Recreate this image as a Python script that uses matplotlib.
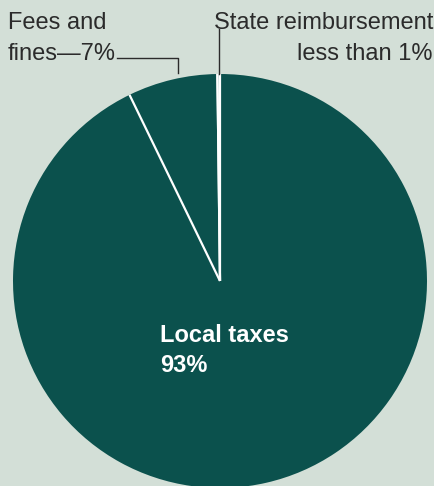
import numpy as np
import matplotlib
matplotlib.use("Agg")
import matplotlib.pyplot as plt

# ── data ──────────────────────────────────────────────────────────────────────
sources = ["State reimbursement", "Fees and fines", "Local taxes"]
shares  = [0.2, 7.0, 92.8]          # percent; state is "less than 1%"
labels  = ["State reimbursement\nless than 1%", "Fees and\nfines\u20147%", "Local taxes\n93%"]

BG   = "#d3dfd7"
TEAL = "#0b514d"
INK  = "#2b2b2b"

plt.rcParams["font.family"] = ["Liberation Sans", "DejaVu Sans"]

W, H = 435, 486
fig = plt.figure(figsize=(W / 100, H / 100), dpi=100, facecolor=BG)
ax = fig.add_axes([0, 0, 1, 1])

cx, cy, R = 220, H - 281, 207

wedges, _ = ax.pie(shares, colors=[TEAL] * 3, startangle=90, counterclock=True,
                   center=(cx, cy), radius=R, frame=True,
                   wedgeprops=dict(linewidth=0))
ax.set_xlim(0, W)
ax.set_ylim(0, H)
ax.set_aspect("equal")
ax.axis("off")

# white separators at the wedge boundaries
for w in wedges[:2]:
    for th in (w.theta1, w.theta2):
        t = np.deg2rad(th)
        ax.plot([cx, cx + R * np.cos(t)], [cy, cy + R * np.sin(t)],
                color="white", lw=1.6, solid_capstyle="butt", zorder=3)

# state reimbursement leader: straight up from the top of the pie
t0 = np.deg2rad(wedges[0].theta1)
ax.plot([cx + R * np.cos(t0) - 1] * 2, [cy + R, H - 29], color=INK, lw=1.0, zorder=3)
ax.text(433, H - 12, labels[0], ha="right", va="top", fontsize=17,
        color=INK, linespacing=1.5)

# fees leader: from near the wedge edge up, then left to the label
tm = np.deg2rad((wedges[1].theta1 + wedges[1].theta2) / 2)
lx = cx + R * np.cos(tm) + 6
ax.plot([lx, lx, 117], [H - 73, H - 58, H - 58], color=INK, lw=1.0, zorder=3)
ax.text(8, H - 12, labels[1], ha="left", va="top", fontsize=17,
        color=INK, linespacing=1.5)

# main label inside the pie
ax.text(160, H - 324, labels[2], ha="left", va="top", fontsize=17,
        fontweight="bold", color="white", linespacing=1.4)

fig.savefig("out.png", dpi=100, facecolor=BG)
